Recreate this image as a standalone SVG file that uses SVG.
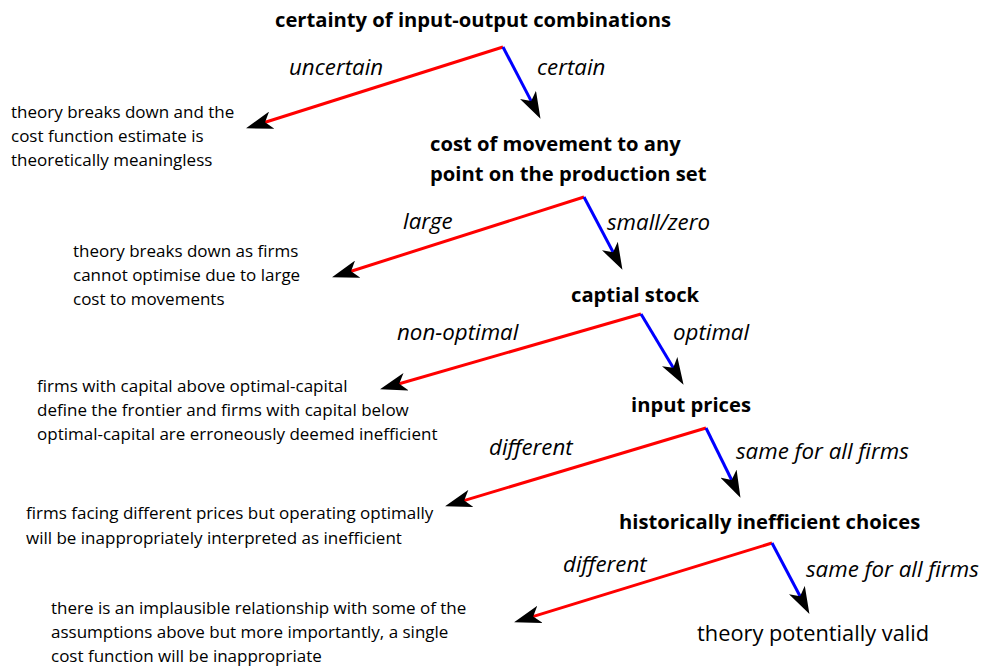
<svg xmlns="http://www.w3.org/2000/svg" width="982" height="672" viewBox="0 0 982 672">
<style>
.node{font-family:"Open Sans","Liberation Sans",sans-serif;font-weight:bold;font-size:20.2px;fill:#000}
.out{font-family:"Open Sans","Liberation Sans",sans-serif;font-size:17px;fill:#000}
.lbl{font-family:"Open Sans","Liberation Sans",sans-serif;font-style:italic;font-size:22.3px;fill:#000}
.fin{font-family:"Open Sans","Liberation Sans",sans-serif;font-size:21.8px;fill:#000}
.red{stroke:#ff0000;stroke-width:3;fill:none}
.blue{stroke:#0000ff;stroke-width:3;fill:none}
</style>
<defs>
<marker id="ah" markerUnits="userSpaceOnUse" markerWidth="28" markerHeight="18" viewBox="0 0 28 18" refX="16" refY="9" orient="auto">
<path d="M0,0 L27,9 L0,18 L7,9 Z" fill="#000"/>
</marker>
</defs>
<rect width="982" height="672" fill="#fff"/>
<g id="connectors">
<polyline class="red" points="503,47 256.5,125" marker-end="url(#ah)"/>
<polyline class="blue" points="503,47 535.4,109.1" marker-end="url(#ah)"/>
<polyline class="red" points="584,197 342.5,274" marker-end="url(#ah)"/>
<polyline class="blue" points="584,197 617.3,260.1" marker-end="url(#ah)"/>
<polyline class="red" points="641,314 390.6,386.2" marker-end="url(#ah)"/>
<polyline class="blue" points="641,314 677.9,375.4" marker-end="url(#ah)"/>
<polyline class="red" points="706,428 455.6,503.1" marker-end="url(#ah)"/>
<polyline class="blue" points="706,428 735.6,488" marker-end="url(#ah)"/>
<polyline class="red" points="772,543 524.6,619.1" marker-end="url(#ah)"/>
<polyline class="blue" points="772,543 804.3,604.2" marker-end="url(#ah)"/>
<text class="lbl" x="289" y="75">uncertain</text>
<text class="lbl" x="537" y="75">certain</text>
<text class="lbl" x="403" y="229">large</text>
<text class="lbl" x="607" y="230">small/zero</text>
<text class="lbl" x="397" y="340">non-optimal</text>
<text class="lbl" x="673" y="340">optimal</text>
<text class="lbl" x="489" y="455">different</text>
<text class="lbl" x="736" y="459">same for all firms</text>
<text class="lbl" x="563" y="572">different</text>
<text class="lbl" x="806" y="577">same for all firms</text>
</g>
<g id="n1"><text class="node" x="275" y="27">certainty of input-output combinations</text></g>
<g id="o1"><text class="out" x="11" y="118">theory breaks down and the</text><text class="out" x="11" y="142">cost function estimate is</text><text class="out" x="11" y="166">theoretically meaningless</text></g>
<g id="n2"><text class="node" x="430" y="151">cost of movement to any</text><text class="node" x="430" y="181">point on the production set</text></g>
<g id="o2"><text class="out" x="73" y="257">theory breaks down as firms</text><text class="out" x="73" y="281">cannot optimise due to large</text><text class="out" x="73" y="305">cost to movements</text></g>
<g id="n3"><text class="node" x="571" y="302">captial stock</text></g>
<g id="o3"><text class="out" x="37" y="392">firms with capital above optimal-capital</text><text class="out" x="37" y="416">define the frontier and firms with capital below</text><text class="out" x="37" y="440">optimal-capital are erroneously deemed inefficient</text></g>
<g id="n4"><text class="node" x="631" y="412">input prices</text></g>
<g id="o4"><text class="out" x="26" y="519">firms facing different prices but operating optimally</text><text class="out" x="26" y="544">will be inappropriately interpreted as inefficient</text></g>
<g id="n5"><text class="node" x="619" y="529">historically inefficient choices</text></g>
<g id="o5"><text class="out" x="51" y="614">there is an implausible relationship with some of the</text><text class="out" x="51" y="638">assumptions above but more importantly, a single</text><text class="out" x="51" y="662">cost function will be inappropriate</text></g>
<g id="n6"><text class="fin" x="697" y="641">theory potentially valid</text></g>
</svg>
